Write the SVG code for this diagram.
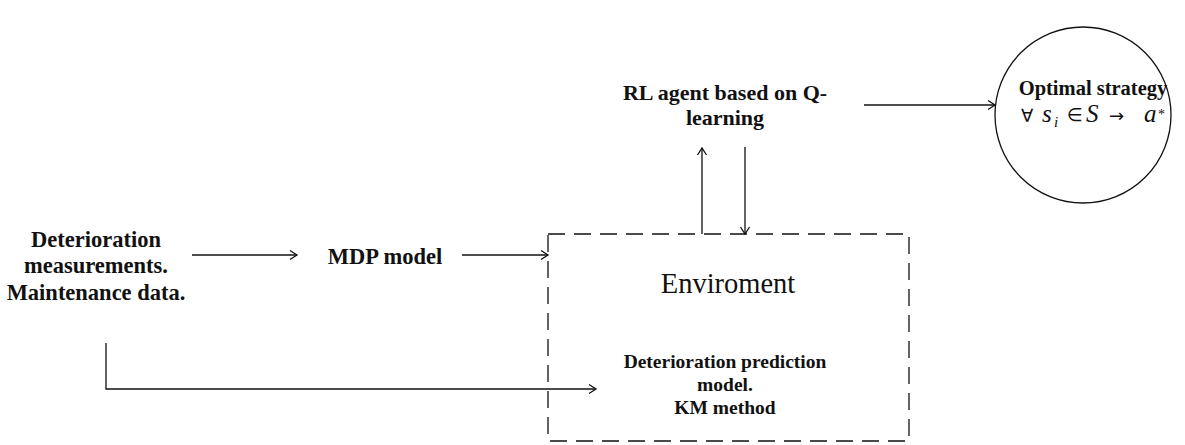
<svg xmlns="http://www.w3.org/2000/svg" width="1185" height="445" viewBox="0 0 1185 445">
  <style>
    .lbl { font-family: "Liberation Serif", "DejaVu Serif", serif; font-weight: bold; fill: #111; text-anchor: middle; }
    .big { font-size: 22.5px; }
    .mid { font-size: 22px; }
    .opt { font-size: 20.5px; }
    .small { font-size: 19.5px; }
    .env { font-size: 28.5px; font-weight: normal; }
    .math { font-family: "Liberation Serif", "DejaVu Serif", serif; font-style: italic; font-size: 25px; fill: #111; }
    .sym { font-family: "DejaVu Sans", "Liberation Serif", sans-serif; font-style: normal; font-size: 18px; }
    .edge { fill: none; stroke: #111; stroke-width: 1.3; }
    .frame { fill: none; stroke: #111; stroke-width: 1.3; stroke-dasharray: 17 9; }
  </style>
  <defs>
    <marker id="arrow" markerWidth="10" markerHeight="12" refX="8" refY="6" orient="auto" markerUnits="userSpaceOnUse">
      <path d="M1,1.5 L8,6 L1,10.5" fill="none" stroke="#111" stroke-width="1.3"/>
    </marker>
  </defs>
  <rect width="1185" height="445" fill="#fff"/>

  <g id="data">
    <text class="lbl big" x="96" y="247">Deterioration</text>
    <text class="lbl big" x="96" y="273">measurements.</text>
    <text class="lbl big" x="96" y="300">Maintenance data.</text>
  </g>

  <g id="mdp">
    <text class="lbl big" x="385" y="264">MDP model</text>
  </g>

  <g id="agent">
    <text class="lbl mid" x="725" y="100">RL agent based on Q-</text>
    <text class="lbl mid" x="725" y="125">learning</text>
  </g>

  <g id="environment">
    <rect class="frame" x="548" y="234" width="361" height="207"/>
    <text class="lbl env" x="728" y="293">Enviroment</text>
    <text class="lbl small" x="725" y="368">Deterioration prediction</text>
    <text class="lbl small" x="725" y="391">model.</text>
    <text class="lbl small" x="725" y="414">KM method</text>
  </g>

  <g id="strategy">
    <circle cx="1083" cy="115" r="88" fill="none" stroke="#111" stroke-width="1.3"/>
    <text class="lbl opt" x="1093" y="95">Optimal strategy</text>
    <text class="math" y="122"><tspan class="sym" x="1021">∀</tspan><tspan x="1042">s</tspan><tspan x="1054" y="127" font-size="15">i</tspan><tspan class="sym" x="1067" y="121" font-size="15">∈</tspan><tspan x="1086" y="122">S</tspan><tspan class="sym" x="1109">→</tspan><tspan x="1144">a</tspan><tspan x="1158" y="119" font-size="14" font-style="normal">*</tspan></text>
  </g>

  <g id="connectors">
    <line class="edge" x1="192" y1="255" x2="297" y2="255" marker-end="url(#arrow)"/>
    <line class="edge" x1="462" y1="255" x2="548" y2="255" marker-end="url(#arrow)"/>
    <polyline class="edge" points="106,343 106,389 596,389" marker-end="url(#arrow)"/>
    <line class="edge" x1="702" y1="234" x2="702" y2="148" marker-end="url(#arrow)"/>
    <line class="edge" x1="745" y1="147" x2="745" y2="234" marker-end="url(#arrow)"/>
    <line class="edge" x1="864" y1="105" x2="995" y2="105" marker-end="url(#arrow)"/>
  </g>
</svg>
